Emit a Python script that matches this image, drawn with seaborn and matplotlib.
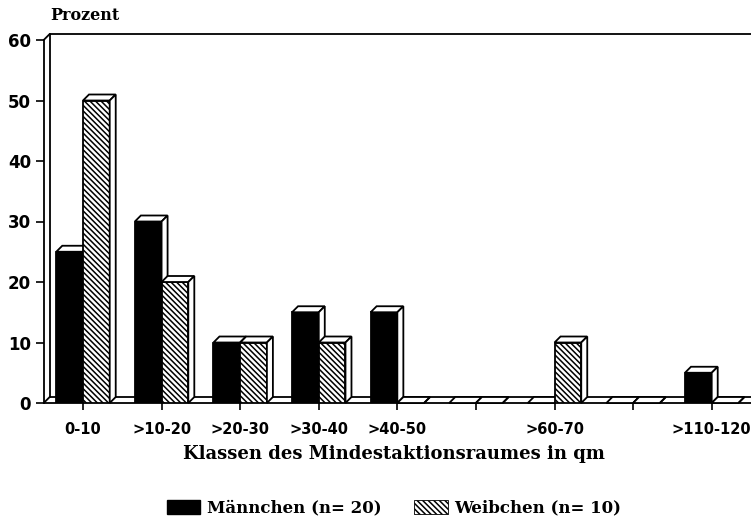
import matplotlib
matplotlib.use("Agg")
import matplotlib.pyplot as plt
from matplotlib.patches import Polygon, Patch
from matplotlib.lines import Line2D
import seaborn as sns
import pandas as pd

# ---- data ----
categories = ["0-10", ">10-20", ">20-30", ">30-40", ">40-50", ">50-60", ">60-70", ">70-110", ">110-120"]
tick_labels = ["0-10", ">10-20", ">20-30", ">30-40", ">40-50", "", ">60-70", "", ">110-120"]
maennchen = [25, 30, 10, 15, 15, 0, 0, 0, 5]
weibchen = [50, 20, 10, 10, 0, 0, 10, 0, 0]
series_names = ["Männchen (n= 20)", "Weibchen (n= 10)"]
y_ticks = [0, 10, 20, 30, 40, 50, 60]

df = pd.DataFrame({
    "Klasse": categories * 2,
    "Geschlecht": [series_names[0]] * len(categories) + [series_names[1]] * len(categories),
    "Prozent": maennchen + weibchen,
})

sns.set_theme(style="white")
plt.rcParams["font.family"] = ["DejaVu Sans"]
plt.rcParams["hatch.linewidth"] = 1.1
plt.rcParams["text.color"] = "black"
plt.rcParams["xtick.color"] = "black"
plt.rcParams["ytick.color"] = "black"

W, H = 751, 522
fig = plt.figure(figsize=(W / 100, H / 100), dpi=100)
ax = fig.add_axes([43.7 / W, (H - 403) / H, (W - 43.7) / W, (403 - 40) / H])

sns.barplot(data=df, x="Klasse", y="Prozent", hue="Geschlecht", order=categories,
            hue_order=series_names, palette=["black", "white"], width=0.68,
            edgecolor="black", linewidth=1.0, saturation=1, legend=False, ax=ax)

HATCH = "\\\\\\\\\\\\"
ax.set_xlim(-0.5, len(categories) - 0.5)
ax.set_ylim(0, 60)

# depth of the pseudo-3D effect (pixels) converted to data units
depth_px = 6.0
p0 = ax.transData.transform((0, 0))
p1 = ax.transData.transform((1, 1))
dx = depth_px / (p1[0] - p0[0])
dy = depth_px / (p1[1] - p0[1])

cont_m, cont_w = ax.containers[0], ax.containers[1]
for b in cont_w:
    b.set_hatch(HATCH)

lw = 1.3
k = 0
for bm, bw in zip(cont_m, cont_w):
    for bar in (bm, bw):
        x0, w, h = bar.get_x(), bar.get_width(), bar.get_height()
        z = 3 + 0.01 * k
        k += 1
        bar.set_zorder(z)
        bar.set_linewidth(lw)
        top = Polygon([(x0, h), (x0 + w, h), (x0 + w + dx, h + dy), (x0 + dx, h + dy)],
                      closed=True, facecolor="white", edgecolor="black", linewidth=lw,
                      zorder=z + 0.003, clip_on=False)
        side = Polygon([(x0 + w, 0), (x0 + w + dx, dy), (x0 + w + dx, h + dy), (x0 + w, h)],
                       closed=True, facecolor="white", edgecolor="black", linewidth=lw,
                       zorder=z + 0.003, clip_on=False)
        ax.add_patch(top)
        ax.add_patch(side)

# back wall / floor lines
xa, xb = ax.get_xlim()
ytop = ax.get_ylim()[1]
wall_kw = dict(color="black", linewidth=lw, zorder=1.5, clip_on=False)
ax.add_line(Line2D([xa + dx, xb], [dy, dy], **wall_kw))
ax.add_line(Line2D([xa + dx, xa + dx], [dy, ytop + dy], **wall_kw))
ax.add_line(Line2D([xa, xa + dx], [ytop, ytop + dy], **wall_kw))
ax.add_line(Line2D([xa, xa + dx], [0, dy], **wall_kw))
ax.add_line(Line2D([xa + dx, xb], [ytop + dy, ytop + dy], **wall_kw))

# axes styling
for s in ("top", "right"):
    ax.spines[s].set_visible(False)
for s in ("left", "bottom"):
    ax.spines[s].set_color("black")
    ax.spines[s].set_linewidth(lw)
ax.set_yticks(y_ticks)
ax.set_yticklabels([str(v) for v in y_ticks], fontsize=12, fontweight="bold", color="black")
ax.set_xticks(range(len(categories)))
ax.set_xticklabels(tick_labels, fontsize=10.5, fontweight="bold", color="black")
ax.tick_params(axis="y", direction="out", length=6, width=1.2, color="black", pad=3, left=True)
ax.tick_params(axis="x", direction="out", length=5, width=1.2, color="black", pad=9, bottom=True)
ax.set_xlabel("")
ax.set_ylabel("")

fig.text(50 / W, (H - 16) / H, "Prozent", fontsize=11.5, fontweight="bold",
         family="DejaVu Serif", ha="left", va="center", color="black")
fig.text(394 / W, (H - 454) / H, "Klassen des Mindestaktionsraumes in qm", fontsize=13,
         fontweight="bold", family="DejaVu Serif", ha="center", va="center", color="black")

handles = [Patch(facecolor="black", edgecolor="black"),
           Patch(facecolor="white", edgecolor="black", hatch=HATCH, linewidth=0.6)]
fig.legend(handles, series_names, loc="center", bbox_to_anchor=(394 / W, (H - 508) / H),
           ncol=2, frameon=False, handlelength=2.0, handleheight=0.9, handletextpad=0.4,
           columnspacing=2.0, prop={"family": "DejaVu Serif", "weight": "bold", "size": 12})

fig.savefig("out.png", dpi=100)
